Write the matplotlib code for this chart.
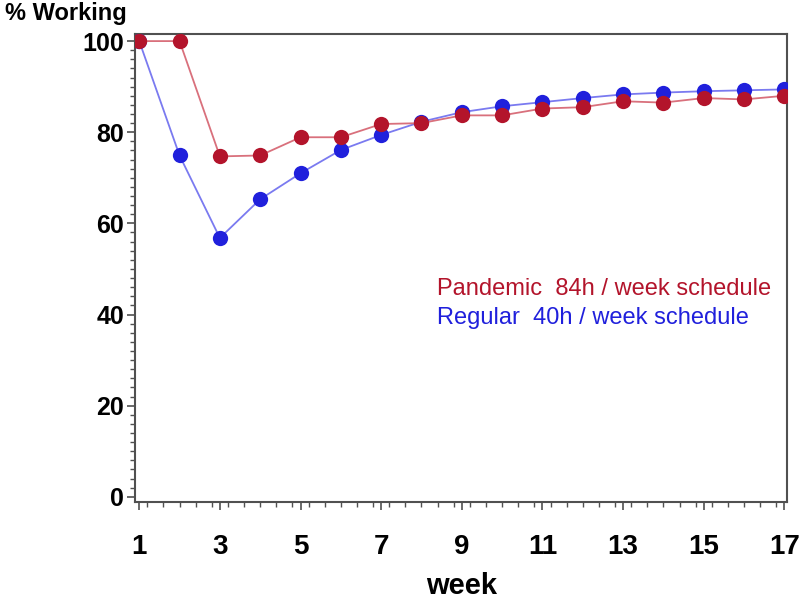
import matplotlib
matplotlib.use("Agg")
import matplotlib.pyplot as plt
from matplotlib.ticker import MultipleLocator

plt.rcParams["font.family"] = ["Liberation Sans", "DejaVu Sans"]

weeks = list(range(1, 18))
pandemic = [100, 100, 74.7, 74.9, 78.9, 78.9, 81.8, 82.0, 83.7, 83.7,
            85.2, 85.5, 86.8, 86.5, 87.5, 87.2, 88.0]
regular = [100, 74.9, 56.8, 65.3, 71.0, 76.1, 79.4, 82.3, 84.4, 85.7,
           86.6, 87.5, 88.3, 88.7, 89.0, 89.2, 89.4]

RED_MARK = "#B3142B"
RED_LINE = "#D9707C"
BLUE_MARK = "#2020DC"
BLUE_LINE = "#7A7AF0"
SPINE = "#505050"

fig = plt.figure(figsize=(8.0, 6.01), dpi=100)
ax = fig.add_axes([0.169, 0.165, 0.815, 0.778])

ax.plot(weeks, regular, color=BLUE_LINE, linewidth=1.3, zorder=2)
ax.plot(weeks, regular, "o", color=BLUE_MARK, markersize=11, zorder=3,
        markeredgewidth=0)
ax.plot(weeks, pandemic, color=RED_LINE, linewidth=1.3, zorder=4)
ax.plot(weeks, pandemic, "o", color=RED_MARK, markersize=11, zorder=5,
        markeredgewidth=0)

ax.set_xlim(0.9, 17.07)
ax.set_ylim(-1.1, 101.5)
ax.set_xticks(range(1, 18, 2))
ax.xaxis.set_minor_locator(MultipleLocator(0.4))
ax.set_yticks(range(0, 101, 20))
ax.yaxis.set_minor_locator(MultipleLocator(2))

ax.tick_params(axis="x", which="major", length=6, width=1.2, color=SPINE,
               labelsize=20, pad=17)
ax.tick_params(axis="y", which="major", length=6, width=1.2, color=SPINE,
               labelsize=18, pad=2)
ax.tick_params(which="minor", length=3.5, width=1.0, color=SPINE)
for lab in ax.get_xticklabels() + ax.get_yticklabels():
    lab.set_fontweight("bold")

for sp in ax.spines.values():
    sp.set_color(SPINE)
    sp.set_linewidth(1.5)

ax.set_xlabel("week", fontsize=21, fontweight="bold", labelpad=9)
fig.text(0.006, 0.997, "% Working", fontsize=17, fontweight="bold",
         ha="left", va="top")

ax.text(0.463, 0.455, "Pandemic  84h / week schedule", transform=ax.transAxes,
        fontsize=17, color=RED_MARK, ha="left", va="center")
ax.text(0.463, 0.393, "Regular  40h / week schedule", transform=ax.transAxes,
        fontsize=17, color=BLUE_MARK, ha="left", va="center")

fig.savefig("out.png", dpi=100)
